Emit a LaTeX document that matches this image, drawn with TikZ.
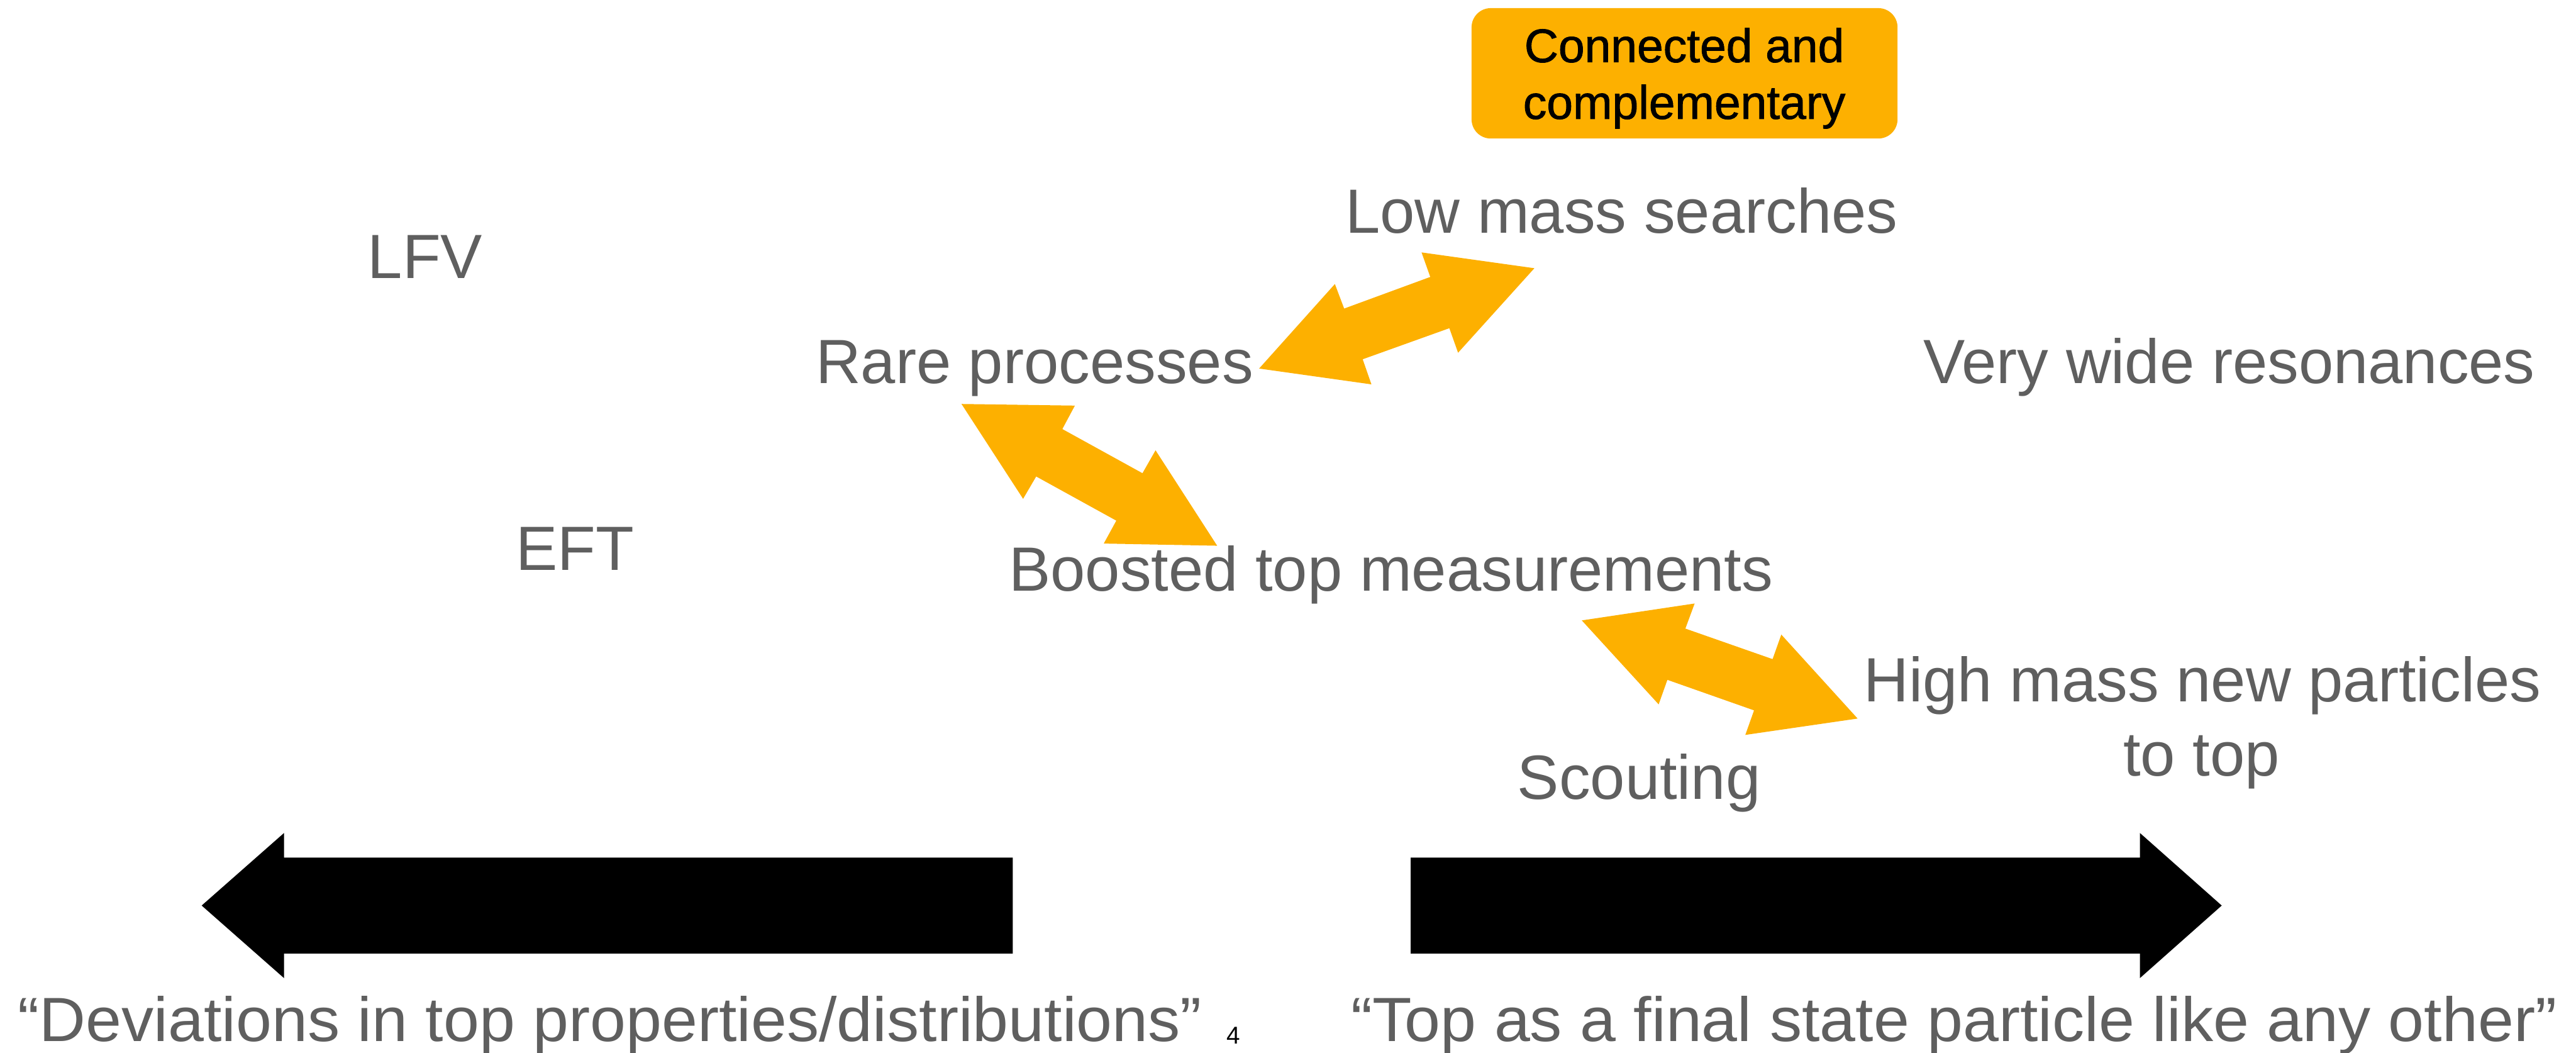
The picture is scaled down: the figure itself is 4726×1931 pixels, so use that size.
\documentclass[tikz,border=0pt]{standalone}
\usepackage{fontspec}
\setmainfont{Liberation Sans}
\newfontfamily\medfont[FakeBold=1.2]{Liberation Sans}
\newfontfamily\widefont[FakeStretch=1.03]{Liberation Sans}
\definecolor{orng}{RGB}{253,176,0}
\definecolor{txtgray}{RGB}{95,95,95}
\begin{document}
\begin{tikzpicture}[x=0.01cm,y=-0.01cm,
  lbl/.style={text=txtgray, font=\fontsize{32.6}{39}\selectfont, anchor=base, inner sep=0pt},
  caption/.style={lbl, font=\widefont\fontsize{32.6}{39}\selectfont},
  boxtxt/.style={text=black, font=\medfont\fontsize{24.6}{29.6}\selectfont, anchor=base, inner sep=0pt},
  pagenum/.style={text=black, font=\fontsize{12.7}{15}\selectfont, anchor=base, inner sep=0pt},
  ccbox/.style={fill=orng, rounded corners=10pt, minimum width=7.81cm, minimum height=2.39cm, inner sep=0pt},
  blockarrow/.style={fill=orng, draw=none},
  bigarrow/.style={fill=black, draw=none}]
\useasboundingbox (0,0) rectangle (4726,1931);

% highlight box
\node[ccbox] (cc) at (3090.5,134.5) {};
\node[boxtxt] (cc1) at (3090,114) {Connected and};
\node[boxtxt] (cc2) at (3090,218) {complementary};

% labels
\node[lbl] (lfv) at (780,510) {LFV};
\node[lbl] (low) at (2975,428) {Low mass searches};
\node[lbl] (rare) at (1898,703) {Rare processes};
\node[lbl] (wide) at (4090,703) {Very wide resonances};
\node[lbl] (eft) at (1055,1046) {EFT};
\node[lbl] (boost) at (2552,1084) {Boosted top measurements};
\node[lbl] (high1) at (4041,1287) {High mass new particles};
\node[lbl] (high2) at (4039,1423) {to top};
\node[lbl] (scout) at (3007,1466) {Scouting};

% orange double arrows
\fill[blockarrow] (2310,676) -- (2449,521) -- (2466,566) -- (2624,508) -- (2608,463) -- (2815,492) -- (2675,647) -- (2659,602) -- (2500,659) -- (2516,705) -- cycle;
\fill[blockarrow] (1764,741) -- (1972,744) -- (1949,787) -- (2096,868) -- (2120,826) -- (2233,1001) -- (2025,997) -- (2048,955) -- (1901,874) -- (1877,915) -- cycle;
\fill[blockarrow] (2902,1138) -- (3109,1107) -- (3092,1153) -- (3252,1209) -- (3268,1164) -- (3408,1318) -- (3202,1348) -- (3218,1303) -- (3059,1247) -- (3043,1292) -- cycle;

% black arrows
\fill[bigarrow] (370,1661) -- (521,1528) -- (521,1573) -- (1858,1573) -- (1858,1749) -- (521,1749) -- (521,1794) -- cycle;
\fill[bigarrow] (4076,1661) -- (3926,1528) -- (3926,1573) -- (2588,1573) -- (2588,1749) -- (3926,1749) -- (3926,1794) -- cycle;

% bottom captions
\node[caption] (dev) at (1119,1910) {“Deviations in top properties/distributions”};
\node[caption] (fin) at (3585,1910) {“Top as a final state particle like any other”};
\node[pagenum] (pg) at (2263,1915) {4};
\end{tikzpicture}
\end{document}
